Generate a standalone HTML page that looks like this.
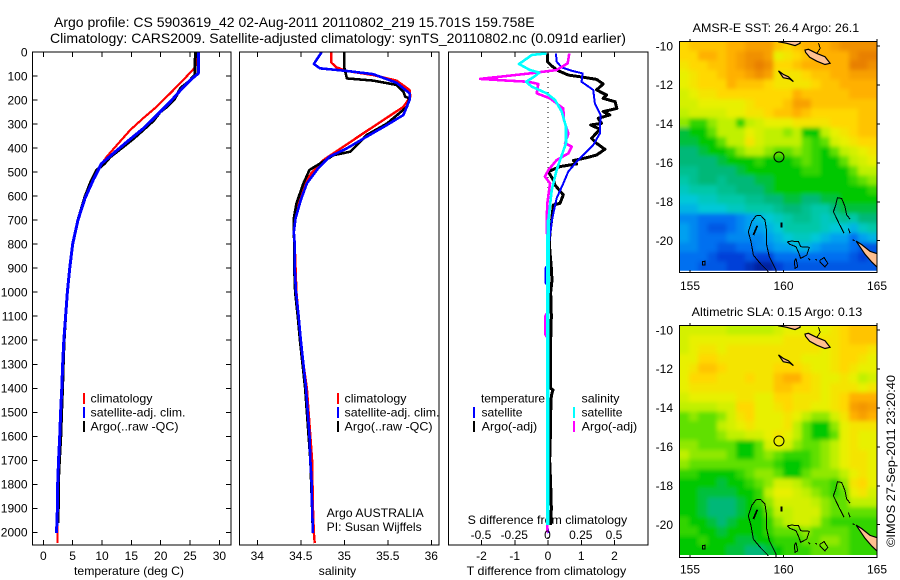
<!DOCTYPE html>
<html lang="en">
<head>
<meta charset="utf-8">
<title>Argo profile 5903619_42</title>
<style>
html,body{margin:0;padding:0;background:#fff;}
svg{display:block;}
text{font-family:"Liberation Sans",sans-serif;font-size:12px;fill:#000;}
.t{font-size:14px;}
</style>
</head>
<body>
<svg id="chart" xmlns="http://www.w3.org/2000/svg" width="900" height="580" viewBox="0 0 900 580">
<defs>
<clipPath id="c1"><rect x="33" y="52" width="198" height="493"/></clipPath>
<clipPath id="c2"><rect x="240" y="52" width="199" height="493"/></clipPath>
<clipPath id="c3"><rect x="449" y="52" width="199" height="493"/></clipPath>
<clipPath id="m1"><rect x="679.5" y="41.5" width="197.5" height="231"/></clipPath>
<clipPath id="m2"><rect x="679.5" y="325.5" width="197.5" height="232"/></clipPath>
<clipPath id="i1"><rect x="679.5" y="41.5" width="197.5" height="229.3"/></clipPath>
<clipPath id="i2"><rect x="679.5" y="325.5" width="197.5" height="229.5"/></clipPath>
<filter id="soften" filterUnits="userSpaceOnUse" x="650" y="0" width="250" height="580"><feGaussianBlur stdDeviation="2"/></filter>
</defs>
<text class="t" x="54" y="27">Argo profile: CS 5903619_42 02-Aug-2011 20110802_219 15.701S 159.758E</text>
<text class="t" x="50" y="43" textLength="576" lengthAdjust="spacingAndGlyphs">Climatology: CARS2009. Satellite-adjusted climatology: synTS_20110802.nc (0.091d earlier)</text>

<text x="74" y="575" textLength="110" lengthAdjust="spacingAndGlyphs">temperature (deg C)</text>
<text x="318.7" y="575" textLength="37.5" lengthAdjust="spacingAndGlyphs">salinity</text>
<text x="466.7" y="575" textLength="159.5" lengthAdjust="spacingAndGlyphs">T difference from climatology</text>
<text x="467.7" y="524" textLength="159.5" lengthAdjust="spacingAndGlyphs">S difference from climatology</text>

<g id="marks"></g>

<g>
<rect x="83" y="393" width="2" height="11" fill="#f00"/>
<rect x="83" y="407" width="2" height="11" fill="#00f"/>
<rect x="83" y="421" width="2" height="11" fill="#000"/>
<text x="90.5" y="402.5" textLength="62" lengthAdjust="spacingAndGlyphs">climatology</text>
<text x="90.5" y="416.5" textLength="95" lengthAdjust="spacingAndGlyphs">satellite-adj. clim.</text>
<text x="90.5" y="430.5" textLength="88" lengthAdjust="spacingAndGlyphs">Argo(..raw -QC)</text>
</g>
<g>
<rect x="337" y="393" width="2" height="11" fill="#f00"/>
<rect x="337" y="407" width="2" height="11" fill="#00f"/>
<rect x="337" y="421" width="2" height="11" fill="#000"/>
<text x="344.5" y="402.5" textLength="62" lengthAdjust="spacingAndGlyphs">climatology</text>
<text x="344.5" y="416.5" textLength="95" lengthAdjust="spacingAndGlyphs">satellite-adj. clim.</text>
<text x="344.5" y="430.5" textLength="88" lengthAdjust="spacingAndGlyphs">Argo(..raw -QC)</text>
<text x="326.7" y="517" textLength="97" lengthAdjust="spacingAndGlyphs">Argo AUSTRALIA</text>
<text x="326.7" y="531" textLength="95" lengthAdjust="spacingAndGlyphs">PI: Susan Wijffels</text>
</g>
<g>
<rect x="473" y="407" width="2" height="11" fill="#00f"/>
<rect x="473" y="421" width="2" height="11" fill="#000"/>
<rect x="573" y="407" width="2" height="11" fill="#0ff"/>
<rect x="573" y="421" width="2" height="11" fill="#f0f"/>
<text x="481" y="402.5" textLength="64" lengthAdjust="spacingAndGlyphs">temperature</text>
<text x="481.5" y="416.5" textLength="41" lengthAdjust="spacingAndGlyphs">satellite</text>
<text x="481.7" y="430.5" textLength="55.5" lengthAdjust="spacingAndGlyphs">Argo(-adj)</text>
<text x="581.5" y="402.5" textLength="38" lengthAdjust="spacingAndGlyphs">salinity</text>
<text x="581.5" y="416.5" textLength="41" lengthAdjust="spacingAndGlyphs">satellite</text>
<text x="581.7" y="430.5" textLength="55.5" lengthAdjust="spacingAndGlyphs">Argo(-adj)</text>
</g>

<text x="692.7" y="32" textLength="166.5" lengthAdjust="spacingAndGlyphs">AMSR-E SST: 26.4 Argo: 26.1</text>
<text x="691.7" y="316" textLength="170.5" lengthAdjust="spacingAndGlyphs">Altimetric SLA: 0.15 Argo: 0.13</text>
<text transform="translate(895,547) rotate(-90)" x="0" y="0" textLength="172" lengthAdjust="spacingAndGlyphs">©IMOS 27-Sep-2011 23:20:40</text>
</svg>

<script>
/* ---------- profile panels: depth ticks and axis ticks ---------- */
const depthTicks = [0,100,200,300,400,500,600,700,800,900,1000,1100,1200,1300,1400,1500,1600,1700,1800,1900,2000];
const tempTicks = [0,5,10,15,20,25,30];
const salTicks = [34,34.5,35,35.5,36];
const tDiffTicks = [-2,-1,0,1,2];
const sDiffTicks = [-0.5,-0.25,0,0.25,0.5];
const lonTicks = [155,160,165];
const latTicks = [-10,-12,-14,-16,-18,-20];

/* ---------- temperature panel ---------- */
const climTempDepth = [0,50,68,110,165,228,276,325,380,436,484,533,602,700,800,900,1000,1100,1200,1300,1400,1500,1600,1700,1800,1900,2000,2045];
const climTemp = [26.1,26.1,25.7,24.1,21.9,19.3,17.0,14.8,12.8,10.8,9.4,8.2,7.1,5.9,5.0,4.5,4.1,3.8,3.5,3.3,3.18,3.0,2.85,2.68,2.5,2.45,2.4,2.4];
const argoTempDepth = [0,95,125,150,194,229,250,285,325,360,395,437,465,492,534,602,700,800,900,1000,1100,1200,1300,1400,1500,1600,1700,1800,1900,1960];
const argoTemp = [25.9,25.85,24.7,23.4,22.4,21,19.9,18.8,17,15.4,13.6,11.4,10.4,9.1,8.2,7.1,5.9,5.0,4.5,4.1,3.8,3.55,3.4,3.28,3.12,2.98,2.75,2.55,2.55,2.5];
const satTempDepth = [0,90,95,118,153,208,264,319,375,423,465,533,609,700,800,900,1000,1100,1200,1300,1400,1500,1600,1700,1800,1900,2003];
const satTemp = [26.4,26.4,26.1,25,23.6,21.6,19.3,17,14.2,11.9,9.9,8.5,7.1,5.9,5.0,4.5,4.1,3.8,3.5,3.3,3.15,2.95,2.8,2.6,2.45,2.4,2.25];

/* ---------- salinity panel ---------- */
const climSalDepth = [0,44,64,79,96,119,158,186,228,283,338,394,450,505,561,644,692,750,800,900,1000,1100,1200,1300,1400,1500,1600,1700,1800,1900,2000,2045];
const climSal = [34.85,34.85,34.91,35.03,35.33,35.6,35.75,35.76,35.68,35.45,35.22,34.99,34.76,34.62,34.53,34.45,34.43,34.42,34.43,34.44,34.45,34.475,34.5,34.53,34.57,34.59,34.61,34.63,34.635,34.64,34.65,34.66];
const argoSalDepth = [0,65,110,119,137,165,186,193,228,298,345,415,429,491,547,630,692,750,800,900,1000,1100,1200,1300,1400,1500,1600,1700,1800,1900,1960];
const argoSal = [35,35,35.03,35.33,35.6,35.68,35.7,35.75,35.72,35.49,35.26,35.07,34.88,34.6,34.53,34.45,34.42,34.42,34.425,34.425,34.435,34.465,34.49,34.52,34.55,34.57,34.59,34.61,34.62,34.63,34.63];
const satSalDepth = [0,50,68,79,92,128,172,200,262,304,352,401,436,484,547,616,692,750,800,900,1000,1100,1200,1300,1400,1500,1600,1700,1800,1900,2003];
const satSal = [34.74,34.65,34.72,35.03,35.33,35.6,35.75,35.75,35.68,35.49,35.26,35.03,34.83,34.7,34.57,34.5,34.44,34.42,34.43,34.43,34.445,34.475,34.5,34.53,34.56,34.58,34.6,34.61,34.625,34.63,34.64];

/* ---------- difference panel ---------- */
const argoDiffTDepth = [6,40,58,78,96,105,114,133,158,179,193,207,235,248,262,276,297,304,318,325,359,380,405,429,440,452,466,477,498,533,554,595,630,637,699,750,800,850,900,950,1000,1100,1200,1300,1400,1407,1430,1500,1600,1700,1800,1900,1970];
const argoDiffT = [-0.02,-0.02,0.11,0.31,0.61,1.06,1.46,1.66,1.46,1.76,1.66,2.02,2.07,1.66,1.86,1.51,1.61,1.28,1.51,1.54,1.31,1.46,1.71,1.46,1.16,0.76,0.86,0.36,0.01,0.16,0.21,0.46,0.36,0.16,0.11,0.06,0.04,0.07,0.1,0.12,0.08,0.1,0.08,0.08,0.08,0.15,0.1,0.08,0.07,0.05,0.08,0.1,0.08];
const satDiffTDepth = [6,40,64,78,89,124,158,214,262,339,387,415,457,498,547,609,692,780,885,900,960,975,1100,1500,1970,2003];
const satDiffT = [0.24,0.26,0.41,0.71,1.04,1.01,1.36,1.41,1.58,1.56,1.36,1.16,0.86,0.61,0.46,0.26,0.13,0.04,0,-0.08,-0.08,0,0,-0.03,-0.03,0.02];
const argoDiffSDepth = [6,47,75,89,112,119,124,133,172,193,235,283,339,380,394,422,450,491,519,547,630,699,800,1085,1100,1175,1190,1500,2000];
const argoDiffS = [0.16,0.148,0.065,-0.135,-0.51,-0.31,-0.148,-0.073,-0.085,0.015,0.115,0.12,0.153,0.128,0.178,0.153,0.065,0.003,-0.023,0.015,-0.005,-0.01,-0.005,-0.005,-0.02,-0.02,-0.005,-0.005,-0.005];
const satDiffSDepth = [6,12,50,75,86,105,124,144,172,200,248,311,380,491,575,699,800,1200,1970];
const satDiffS = [-0.01,-0.12,-0.218,-0.135,-0.065,-0.11,-0.165,-0.123,-0.01,0.053,0.103,0.135,0.135,0.065,0.028,0.003,0,-0.002,-0.002];

/* ---------- map panels: colour-index grids (0 = deep blue ... 14 = dark orange) ---------- */
const mapLonStart = 154.43;
const mapLonStep = 0.5034;
const mapLatStart = -9.76;
const mapLatStep = 0.4916;
const floatLon = 159.758;
const floatLat = -15.701;
const sstGrid = [
[11,11.5,11.5,11.5,11.5,12,12,12.5,12.5,12.5,11.5,11,11.5,12,12,12,12.5,13,13,13,13],
[11,11,12,12,11.5,12,12.5,13,13,12.5,10,10.5,11,11.5,12,12,12,12,13,13.5,13.5],
[10.5,11,11,11.5,11.5,12,12.5,13,13.5,13,11,11,11.5,12,12,12,12,12,13.5,13.5,13],
[10,10.5,11,11,11.5,12,12,12.5,13,12.5,10.5,10.5,10.5,11,11.5,11.5,12,12,12.5,12.5,12.5],
[10,10.5,11,11,11,12,11.5,11.5,11.5,11,10.5,10.5,10.5,10.5,11,11.5,11.5,12,12,12,12],
[9.5,10,10.5,10.5,11,11,11,11,11,11,11,11,12,11.5,11.5,11.5,11.5,11.5,12,12,12],
[9.5,9.5,10,10,10,10,10,10.5,11,11,11,11.5,12.5,12.5,11.5,11.5,11.5,11.5,11.5,11.5,11.5],
[9,9.5,9.5,9.5,9.5,10,10,10.5,10.5,11,11.5,11.5,12,11.5,11,11,11,11,11,11.5,11.5],
[8.5,7.5,7.5,8.5,9,9,7.5,9,9.5,10,10,10,10.5,10.5,10.5,10.5,11,11,11,11.5,11.5],
[6.5,7,7,8,9,9,9,10,9.5,9,9,8.5,9,7,7,9,10,10.5,11,11.5,11.5],
[6.5,6.5,7,7,8,9,9,10.5,9.5,9,9,9,9,8,7.5,8,9.5,10,10.5,11,11],
[6,6,6.5,7,7,7.5,8.5,9,9,8.5,8,8,8.5,8,7.5,7,8,9,9.5,10,10.5],
[6,6,6,6,6.5,7,7,7,7.5,7,7,7,7.5,8,7.5,7,7,8,9,9.5,10],
[5.5,5.5,6,6,6,6,6.5,7,7,7,7,7,7,7.5,7.5,7,7,7,8,9,9],
[5,5.5,6,6,5.5,6,6,6,6.5,6.5,7,7,7,7,7,7,7,7,7.5,8,8.5],
[4.5,5,5,5,5.5,5.5,6,6,6,6.5,7,7,7,7,7,7,7,7,7,7,7.5],
[4,4,4.5,4.5,5,5,5,5.5,5.5,6,6,6.5,6.5,6,6,6.5,6.5,7,7,7,7],
[3.5,3.5,4,4,4,4.5,4.5,5,5,5,5.5,6,6,5.5,5,5,6,6.5,6.5,6.5,6.5],
[2.5,2.5,2,2,2,2,2.5,3,3.5,4,4.5,5,5.5,5.5,5,4.5,5,5.5,5,6,6],
[3,2.5,2,1.5,1.5,2,2.5,3,3,3.5,4,5,5,5,5,4.5,4,4,3.5,4.5,5],
[3,2.5,2,2,2,2.5,2.5,2.5,2.5,3,3.5,4,4.5,4.5,4,3.5,3,3,2,3,3.5],
[2.5,2.5,2,2,1.5,1.5,2,2,2.5,2.5,3,3,3.5,3.5,3,2.5,2.5,2.5,2,1.5,1.5],
[2,2,2,1.5,1,1,1,1.5,1,1,2,2,2,2,2,2,2,2,1.5,1,1.5],
[2,2,1.5,1.5,1.5,1,1,0.5,0,0,1,1.5,1.5,1.5,1.5,1.5,1.5,1.5,1.5,1.5,1.5]
];
const slaGrid = [
[9.5,9.5,9.5,9.5,9.5,9,9,9,9,9,9.5,10,10,10,10,10,10.5,11,11.5,11.5,11.5],
[9.5,10,10,10,10,10,10,10,10,10,10,10.5,10.5,10.5,10.5,10.5,10.5,11,11.5,11.5,11.5],
[9.5,10,10.5,10.5,10,10.5,10.5,10.5,10.5,10.5,10.5,10.5,10.5,10.5,10.5,10,10.5,11,11,11,10.5],
[10,10,11,11,10.5,10.5,10.5,10.5,10.5,10.5,10.5,10.5,10.5,10,10,10,10.5,11,11,10.5,10],
[10,10.5,11.5,11.5,11,10.5,10.5,10.5,10.5,10.5,11,11,11,10.5,10,10,10.5,11,10.5,10,10],
[10,11,11,11,10.5,10.5,10.5,11,10.5,10.5,11.5,12,12,11,10.5,10,10,10.5,10,9,9.5],
[10,10.5,10.5,10.5,10.5,10.5,10.5,10.5,10.5,10.5,11.5,11.5,11,11,10.5,10,10.5,10.5,10.5,10,10.5],
[9.5,10,10,10,10,10,10.5,10.5,10,10,11,11,10.5,10.5,10.5,10,10.5,11,12,12,12],
[9,9,9,9,9.5,9.5,11,11,10,10,10.5,11,10.5,10.5,10,10,10.5,11,12.5,12.8,12.5],
[8,8.5,8,8,8.5,9.5,10.5,11,10,10,10,10.5,10,9,8.5,8.5,9.5,10.5,12,12.5,12],
[8,8,8,8,9,9.5,10,10.5,10,10,10,10.5,9,8,7,7,8.5,10,10.5,10.5,10.5],
[8,8,8,8,8.5,9,9,9.5,9.5,10,10.5,10,9,8,7,7,8,10,10.5,10,10],
[8.5,8.5,8,8,8,8,7,7,8,9.5,10,9.5,8.5,8,8,8.5,9,10,10.5,10,10],
[9,8.5,8.5,8.5,8.5,8,7,7,8,8.5,8,7.5,7.5,7.5,8,8.5,9,10,10.5,10.5,10],
[8.5,8,8,8,8,8,8,8,8,8,7.5,7,7,7.5,8,8.5,9,10,10.5,10.5,10],
[7.5,7.5,7,7,7,7,7.5,8,8.5,8.5,8,7,7,8,8.5,8.5,8.5,9,10,10.5,10],
[7,7,7,7,6.5,7,7,7.5,8,8.5,9.5,9.5,9,8.5,8,8,7.5,8.5,10.5,11,10],
[7,7,6.5,6.5,6.5,6.5,7,7,7.5,9,10,10,9.5,9,8.5,8,7.5,8,10,10.5,9.5],
[7,7,6.5,6,6,6,6.5,7,7.5,8.5,9.5,9.5,9.5,9.5,9,8.5,8,8,9,9,9],
[7,7,6.5,6,6,6,6.5,7,7,8,9,9,9.5,9.5,9.5,8.5,8,8,8,8,8],
[7.5,7,7,6.5,6,6.5,7,7,7,7.5,8.5,9,9.5,9.5,9,8,7.5,7.5,7.5,7.5,7.5],
[7.5,7.5,7,7,6.5,7,7,7,7,7.5,8,8,8,8.5,8,8,8,8,7.5,7.5,7.5],
[7,7,7.5,7,7,7,6.5,6.5,7,7,7.5,7.5,7.5,8,8,8.5,8.5,8,7.5,7.5,7.5],
[7,7,7,7,7,6.5,6.5,6,6,6.5,7,7.5,7.5,7.5,8,8,8,8,7.5,7.5,7.5]
];
const colourStops = ['#0020a0','#0040d8','#0070f0','#00a0f0','#00c8d8','#00c8a8','#00b878','#00c800','#60e000','#c0f000','#e8f000','#ffd800','#ffb000','#f09000','#e07000'];

/* ---------- coastlines in lon / lat ---------- */
const landShapes = [
[[161.15,-10.21],[161.33,-10.17],[161.78,-10.38],[162.22,-10.55],[162.49,-10.89],[162.22,-10.95],[161.78,-10.78],[161.4,-10.58],[161.18,-10.33]],
[[159.73,-9.7],[159.73,-9.78],[160.17,-9.86],[160.62,-9.98],[160.89,-9.86],[160.89,-9.7]],
[[163.88,-20.02],[164.18,-20.2],[164.63,-20.55],[165.1,-20.7],[165.1,-21.45],[164.72,-21.1],[164.36,-20.7]],
[[159.73,-11.28],[159.99,-11.46],[160.26,-11.58],[160.53,-11.83],[160.35,-11.7],[159.99,-11.63]]
];
const contourLines = [
[[158.53,-18.72],[158.78,-18.7],[159.01,-18.94],[159.1,-19.54],[159.1,-20.22],[159.24,-20.82],[159.6,-21.51],[159.6,-21.68]],
[[159.19,-21.59],[158.75,-21.16],[158.39,-20.74],[158.26,-20.05],[158.12,-19.54],[158.3,-19.02],[158.53,-18.72]],
[[162.79,-18.17],[162.88,-17.79],[163.11,-17.83],[163.29,-18.25],[163.38,-18.68],[163.56,-18.89]],
[[162.79,-18.17],[162.67,-18.51],[162.97,-19.11],[163.24,-19.62]],
[[160.21,-20.05],[160.44,-20.02],[160.8,-20.05],[160.92,-20.31],[161.38,-20.34],[161.24,-20.74],[160.92,-20.91],[160.8,-20.6],[160.67,-20.31],[160.35,-20.19],[160.21,-20.05]],
[[161.96,-20.99],[162.17,-20.87],[162.37,-21.16],[162.22,-21.34],[161.96,-21.11],[161.96,-20.99]],
[[160.67,-20.91],[160.76,-21.34],[160.62,-21.42],[160.58,-21.08],[160.67,-20.91]],
[[155.66,-21.08],[155.8,-21.05],[155.8,-21.25],[155.66,-21.25],[155.66,-21.08]],
[[161.87,-9.86],[161.96,-10.12],[161.78,-10.38]],
[[161.33,-20.91],[161.42,-20.99]],
[[161.7,-20.95],[161.78,-21.0]],
[[163.47,-19.37],[163.56,-19.62]],
[[163.7,-19.95],[163.8,-20.0]]
];
const thickContours = [
[[159.9,-19.06],[159.9,-19.33]],
[[158.6,-19.23],[158.39,-19.71]]
];

/* ---------- axis functions ---------- */
function yDepth(d){ return 52 + 0.2402*d; }
function xTemp(t){ return 43.3 + 5.87*t; }
function xSal(s){ return 257.3 + 87*(s-34); }
function xDiffT(t){ return 548 + 33.25*t; }
function xDiffS(s){ return 548 + 133*s; }
function xLon(lon){ return 690 + 18.7*(lon-155); }
function yLat(lat,map){ return map.y10 + 19.47*(-10-lat); }

const NS = 'http://www.w3.org/2000/svg';
const root = document.getElementById('marks');
function make(tag,parent,name,interact){
  const el = document.createElementNS(NS,tag);
  
  
  parent.appendChild(el);
  return el;
}
function group(name,clip){
  const g = make('g',root,name,'false');
  if(clip) g.setAttribute('clip-path','url(#'+clip+')');
  return g;
}
function line(parent,name,x1,y1,x2,y2,w){
  const l = make('line',parent,name,'false');
  l.setAttribute('x1',x1); l.setAttribute('y1',y1);
  l.setAttribute('x2',x2); l.setAttribute('y2',y2);
  l.setAttribute('stroke','#000');
  l.setAttribute('stroke-width',w||1);
  l.setAttribute('shape-rendering','crispEdges');
  return l;
}
function label(parent,name,str,x,y,anchor){
  const t = make('text',parent,name,'false');
  t.setAttribute('x',x); t.setAttribute('y',y);
  t.setAttribute('text-anchor',anchor||'middle');
  t.textContent = str;
  return t;
}
function frame(parent,name,x,y,w,h){
  const r = make('rect',parent,name,'false');
  r.setAttribute('x',x); r.setAttribute('y',y);
  r.setAttribute('width',w); r.setAttribute('height',h);
  r.setAttribute('fill','none');
  r.setAttribute('stroke','#000');
  r.setAttribute('stroke-width',1.4);
  r.setAttribute('shape-rendering','crispEdges');
}
function series(parent,name,xs,ds,xf,colour,width){
  const p = make('polyline',parent,name,'false');
  p.setAttribute('points',xs.map(function(v,i){ return xf(v).toFixed(2)+','+yDepth(ds[i]).toFixed(2); }).join(' '));
  p.setAttribute('fill','none');
  p.setAttribute('stroke',colour);
  p.setAttribute('stroke-width',width);
  p.setAttribute('stroke-linejoin','round');
  p.setAttribute('shape-rendering','crispEdges');
}

/* ---------- panel 1 ---------- */
const g1 = group('temperature-series','c1');
series(g1,'temperature-climatology-line',climTemp,climTempDepth,xTemp,'#f00',2.2);
series(g1,'temperature-argo-line',argoTemp,argoTempDepth,xTemp,'#000',3);
series(g1,'temperature-satellite-line',satTemp,satTempDepth,xTemp,'#00f',3);
const a1 = group('temperature-axes');
frame(a1,'temperature-panel-frame',32.5,52,198.5,493);
depthTicks.forEach(function(d){
  line(a1,'depth-tick',32.5,yDepth(d),37.5,yDepth(d));
  line(a1,'depth-tick-right',226,yDepth(d),231,yDepth(d));
  label(a1,'depth-tick-label',String(d),27.5,yDepth(d)+4.3,'end');
});
tempTicks.forEach(function(t){
  line(a1,'temperature-tick-top',xTemp(t),52,xTemp(t),57);
  line(a1,'temperature-tick-bottom',xTemp(t),540,xTemp(t),545);
  label(a1,'temperature-tick-label',String(t),xTemp(t),560);
});

/* ---------- panel 2 ---------- */
const g2 = group('salinity-series','c2');
series(g2,'salinity-climatology-line',climSal,climSalDepth,xSal,'#f00',2.4);
series(g2,'salinity-argo-line',argoSal,argoSalDepth,xSal,'#000',2.6);
series(g2,'salinity-satellite-line',satSal,satSalDepth,xSal,'#00f',2.6);
const a2 = group('salinity-axes');
frame(a2,'salinity-panel-frame',239.5,52,199.5,493);
salTicks.forEach(function(s){
  line(a2,'salinity-tick-top',xSal(s),52,xSal(s),57);
  line(a2,'salinity-tick-bottom',xSal(s),540,xSal(s),545);
  label(a2,'salinity-tick-label',String(s),xSal(s),560);
});

/* ---------- panel 3 ---------- */
const g3 = group('difference-series','c3');
const zero = line(g3,'zero-difference-line',xDiffT(0),yDepth(0),xDiffT(0),yDepth(2050));
zero.setAttribute('stroke-dasharray','1 4');
series(g3,'t-difference-argo-line',argoDiffT,argoDiffTDepth,xDiffT,'#000',3);
series(g3,'t-difference-satellite-line',satDiffT,satDiffTDepth,xDiffT,'#00f',2);
series(g3,'s-difference-argo-line',argoDiffS,argoDiffSDepth,xDiffS,'#f0f',2.6);
series(g3,'s-difference-satellite-line',satDiffS.slice(0,16),satDiffSDepth.slice(0,16),xDiffS,'#0ff',2.6);
series(g3,'s-difference-satellite-deep-line',satDiffS.slice(15),satDiffSDepth.slice(15),xDiffS,'#0ff',3.8);
const a3 = group('difference-axes');
frame(a3,'difference-panel-frame',448.5,52,199.5,493);
tDiffTicks.forEach(function(t){
  line(a3,'t-difference-tick-top',xDiffT(t),52,xDiffT(t),57);
  line(a3,'t-difference-tick-bottom',xDiffT(t),540,xDiffT(t),545);
  label(a3,'t-difference-tick-label',String(t),xDiffT(t),560);
});
sDiffTicks.forEach(function(s){
  label(a3,'s-difference-tick-label',String(s),xDiffS(s)-0.5,539);
});

/* ---------- maps ---------- */
function colourOf(v){
  const i = Math.max(0,Math.min(colourStops.length-1,v));
  const lo = Math.floor(i), hi = Math.min(colourStops.length-1,lo+1), f = i-lo;
  const a = parseInt(colourStops[lo].slice(1),16), b = parseInt(colourStops[hi].slice(1),16);
  const mix = function(sh){ return Math.round(((a>>sh)&255)*(1-f)+((b>>sh)&255)*f); };
  return 'rgb('+mix(16)+','+mix(8)+','+mix(0)+')';
}
function drawMap(prefix,grid,map,clip,imageClip){
  const holder = group(prefix+'-map-image',imageClip);
  const cells = make('g',holder,prefix+'-cells','false');
  cells.setAttribute('filter','url(#soften)');
  const lastRow = grid.length-1;
  grid.forEach(function(row,r){
    const lastCol = row.length-1;
    row.forEach(function(v,c){
      const cell = make('rect',cells,prefix+'-cell','false');
      const padL = c===0 ? 12 : 0, padR = c===lastCol ? 12 : 0;
      const padT = r===0 ? 12 : 0, padB = r===lastRow ? 12 : 0;
      const x = xLon(mapLonStart+c*mapLonStep);
      const y = yLat(mapLatStart-r*mapLatStep,map);
      cell.setAttribute('x',(x-padL).toFixed(2));
      cell.setAttribute('y',(y-padT).toFixed(2));
      cell.setAttribute('width',(mapLonStep*18.7+0.4+padL+padR).toFixed(2));
      cell.setAttribute('height',(mapLatStep*19.47+0.4+padT+padB).toFixed(2));
      cell.setAttribute('fill',colourOf(v));
      cell.setAttribute('shape-rendering','crispEdges');
    });
  });
  const g = group(prefix+'-map-overlay',clip);
  const pts = function(arr){ return arr.map(function(p){ return xLon(p[0]).toFixed(1)+','+yLat(p[1],map).toFixed(1); }).join(' '); };
  landShapes.forEach(function(s){
    const p = make('polygon',g,'land-polygon','false');
    p.setAttribute('points',pts(s));
    p.setAttribute('fill','#ffc090');
    p.setAttribute('stroke','#000');
    p.setAttribute('stroke-width',1.2);
  });
  contourLines.forEach(function(s){
    const p = make('polyline',g,'bathymetry-contour','false');
    p.setAttribute('points',pts(s));
    p.setAttribute('fill','none');
    p.setAttribute('stroke','#000');
    p.setAttribute('stroke-width',1);
    p.setAttribute('shape-rendering','crispEdges');
  });
  thickContours.forEach(function(s){
    const p = make('polyline',g,'shoal-contour','false');
    p.setAttribute('points',pts(s));
    p.setAttribute('fill','none');
    p.setAttribute('stroke','#000');
    p.setAttribute('stroke-width',1.8);
    p.setAttribute('shape-rendering','crispEdges');
  });
  const mk = make('circle',g,'argo-float-marker','false');
  mk.setAttribute('cx',xLon(floatLon));
  mk.setAttribute('cy',yLat(floatLat,map));
  mk.setAttribute('r',5);
  mk.setAttribute('fill','none');
  mk.setAttribute('stroke','#000');
  mk.setAttribute('stroke-width',1);
  const a = group(prefix+'-axes');
  frame(a,prefix+'-frame',679.5,map.top,197.5,map.bottom-map.top);
  lonTicks.forEach(function(l){
    line(a,'longitude-tick-top',xLon(l),map.top-2.5,xLon(l),map.top);
    line(a,'longitude-tick-bottom',xLon(l),map.bottom-2.5,xLon(l),map.bottom);
    label(a,'longitude-tick-label',String(l),xLon(l),map.labelY);
  });
  latTicks.forEach(function(l){
    line(a,'latitude-tick-right',877,yLat(l,map),880,yLat(l,map));
    label(a,'latitude-tick-label',String(l),673,yLat(l,map)+4.3,'end');
  });
}
drawMap('sst',sstGrid,{y10:46,top:41.5,bottom:272.5,labelY:290},'m1','i1');
drawMap('sla',slaGrid,{y10:330,top:325.5,bottom:557.5,labelY:573.5},'m2','i2');
</script>
</body>
</html>
